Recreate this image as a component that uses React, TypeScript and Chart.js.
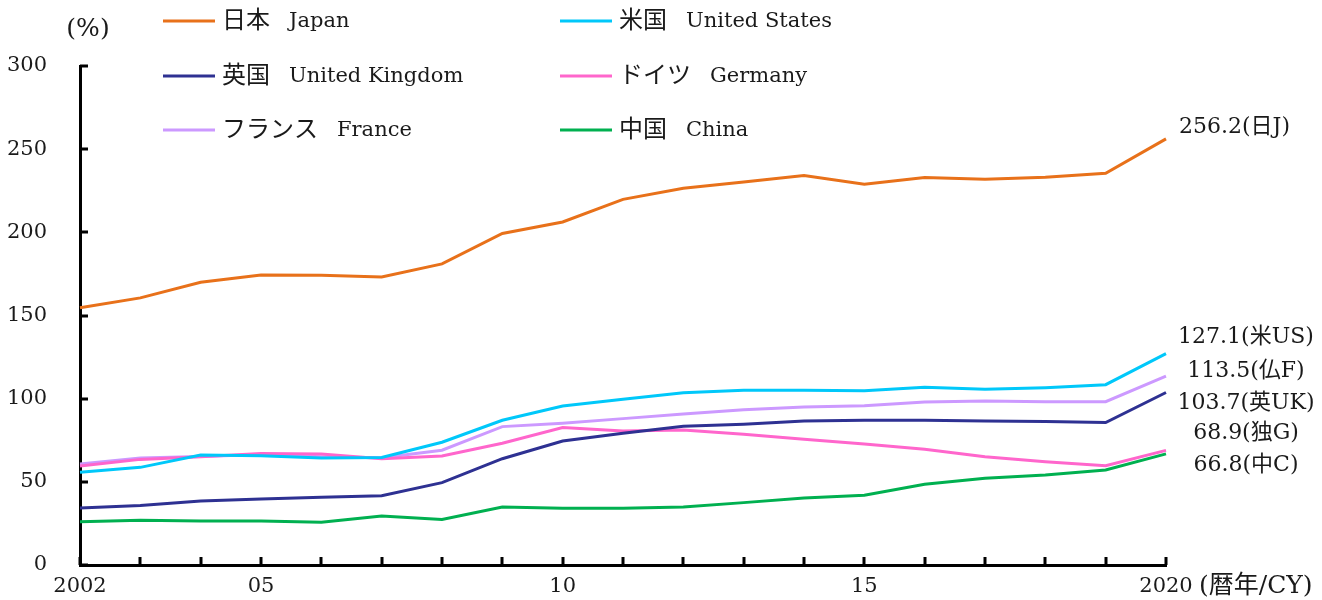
import { useEffect, useRef } from "react";
import { Chart, registerables } from "chart.js";

Chart.register(...registerables);

const years = ["2002","2003","2004","2005","2006","2007","2008","2009","2010","2011","2012","2013","2014","2015","2016","2017","2018","2019","2020"];
const xTickLabels = ["2002","","","05","","","","","10","","","","","15","","","","","2020"];
const yTickValues = [0, 50, 100, 150, 200, 250, 300];

const japan = [154.6,160.6,170.0,174.3,174.2,173.2,181.0,199.3,206.2,219.8,226.5,230.3,234.1,228.9,232.9,231.9,233.1,235.5,256.2];
const usa = [55.7,58.7,66.1,65.7,64.3,64.7,73.8,87.0,95.6,99.6,103.6,105.0,105.0,104.7,106.8,105.6,106.6,108.4,127.1];
const uk = [34.3,35.7,38.5,39.7,40.7,41.7,49.5,63.9,74.5,79.2,83.4,84.6,86.6,87.0,87.0,86.6,86.2,85.6,103.7];
const germany = [59.5,63.5,65.1,67.1,66.7,63.9,65.5,73.2,82.6,80.6,81.2,78.6,75.6,72.7,69.6,65.1,62.1,59.7,68.9];
const france = [60.7,64.3,65.3,66.5,65.1,64.5,69.0,83.2,85.2,88.0,90.8,93.4,95.0,95.8,98.0,98.6,98.2,98.2,113.5];
const china = [26.0,26.9,26.5,26.5,25.7,29.5,27.3,34.9,34.1,34.1,34.9,37.5,40.3,41.9,48.5,52.1,54.1,57.1,66.8];

const seriesNamesJa = ["日本","米国","英国","ドイツ","フランス","中国"];
const seriesNamesEn = ["Japan","United States","United Kingdom","Germany","France","China"];
const seriesColors = ["#E8711A","#00C8FA","#2E3192","#FF66CC","#CC99FF","#00B050"];
const endLabels = ["256.2(日J)","127.1(米US)","113.5(仏F)","103.7(英UK)","68.9(独G)","66.8(中C)"];
const unitLabel = "(%)";
const xAxisTitle = "(暦年/CY)";

const FONT = '"DejaVu Serif", "Noto Sans CJK JP", serif';
const TEXT = "#1a1a1a";

const overlay = {
  id: "overlay",
  afterDraw(chart: any) {
    const { ctx, chartArea, scales } = chart;
    const xs = scales.x;
    const ys = scales.y;
    ctx.save();
    ctx.strokeStyle = "#000";
    ctx.lineWidth = 3;
    ctx.beginPath();
    for (const v of yTickValues) {
      const py = Math.round(ys.getPixelForValue(v));
      ctx.moveTo(chartArea.left, py);
      ctx.lineTo(chartArea.left + 8, py);
    }
    for (let i = 0; i < years.length; i++) {
      const px = Math.round(xs.getPixelForValue(i));
      ctx.moveTo(px, chartArea.bottom);
      ctx.lineTo(px, chartArea.bottom - 8);
    }
    ctx.stroke();

    // legend: 2 columns x 3 rows
    const colX = [163, 560];
    const rowY = [21, 76, 130];
    ctx.textBaseline = "middle";
    ctx.textAlign = "left";
    ctx.fillStyle = TEXT;
    for (let k = 0; k < seriesNamesJa.length; k++) {
      const cx = colX[k % 2];
      const cy = rowY[Math.floor(k / 2)];
      ctx.strokeStyle = seriesColors[k];
      ctx.lineWidth = 3;
      ctx.beginPath();
      ctx.moveTo(cx, cy);
      ctx.lineTo(cx + 52, cy);
      ctx.stroke();
      ctx.font = `24px ${FONT}`;
      ctx.fillText(seriesNamesJa[k], cx + 59, cy + 1);
      const w = ctx.measureText(seriesNamesJa[k]).width;
      ctx.font = `21px ${FONT}`;
      ctx.fillText(seriesNamesEn[k], cx + 59 + w + 19, cy + 1);
    }

    // unit label
    ctx.font = `25px ${FONT}`;
    ctx.textAlign = "center";
    ctx.fillText(unitLabel, 88, 29);

    // x axis title
    ctx.font = `25px ${FONT}`;
    ctx.textAlign = "left";
    ctx.fillText(xAxisTitle, 1199, 586);

    // end labels
    ctx.font = `22px ${FONT}`;
    ctx.textAlign = "left";
    ctx.fillText(endLabels[0], 1179, 127);
    const endY = [337, 371, 403, 433, 465];
    ctx.textAlign = "center";
    for (let k = 1; k < endLabels.length; k++) {
      ctx.fillText(endLabels[k], 1246, endY[k - 1]);
    }
    ctx.restore();
  },
};

export default function App() {
  const ref = useRef<HTMLCanvasElement | null>(null);
  useEffect(() => {
    if (!ref.current) return;
    const allSeries = [japan, usa, uk, germany, france, china];
    const chart = new Chart(ref.current, {
      type: "line",
      data: {
        labels: years,
        datasets: allSeries.map((d, k) => ({
          label: seriesNamesEn[k],
          data: d,
          borderColor: seriesColors[k],
          backgroundColor: seriesColors[k],
          borderWidth: 3,
          pointRadius: 0,
          tension: 0,
          fill: false,
        })),
      },
      options: {
        responsive: false,
        animation: false,
        layout: { padding: { top: 66, right: 156, left: 0, bottom: 0 } },
        plugins: { legend: { display: false }, tooltip: { enabled: false } },
        scales: {
          x: {
            type: "category",
            offset: false,
            grid: { display: false, drawTicks: false },
            border: { display: true, color: "#000", width: 3 },
            ticks: {
              autoSkip: false,
              maxRotation: 0,
              padding: 9,
              color: TEXT,
              font: { family: FONT, size: 21 },
              callback: (_v: any, i: number) => xTickLabels[i],
            },
            afterFit: (s: any) => {
              s.height = 35;
              s.paddingLeft = 0;
              s.paddingRight = 0;
            },
          },
          y: {
            min: 0,
            max: 300,
            grid: { display: false, drawTicks: false },
            border: { display: true, color: "#000", width: 3 },
            ticks: {
              stepSize: 50,
              padding: 33,
              color: TEXT,
              font: { family: FONT, size: 21 },
            },
            afterFit: (s: any) => {
              s.width = 80;
              s.paddingTop = 0;
              s.paddingBottom = 0;
            },
          },
        },
      },
      plugins: [overlay],
    });
    return () => chart.destroy();
  }, []);
  return (
    <div style={{ position: "absolute", left: 0, top: 0, width: 1322, height: 600, background: "#fff" }}>
      <canvas ref={ref} width={1322} height={600} />
    </div>
  );
}
